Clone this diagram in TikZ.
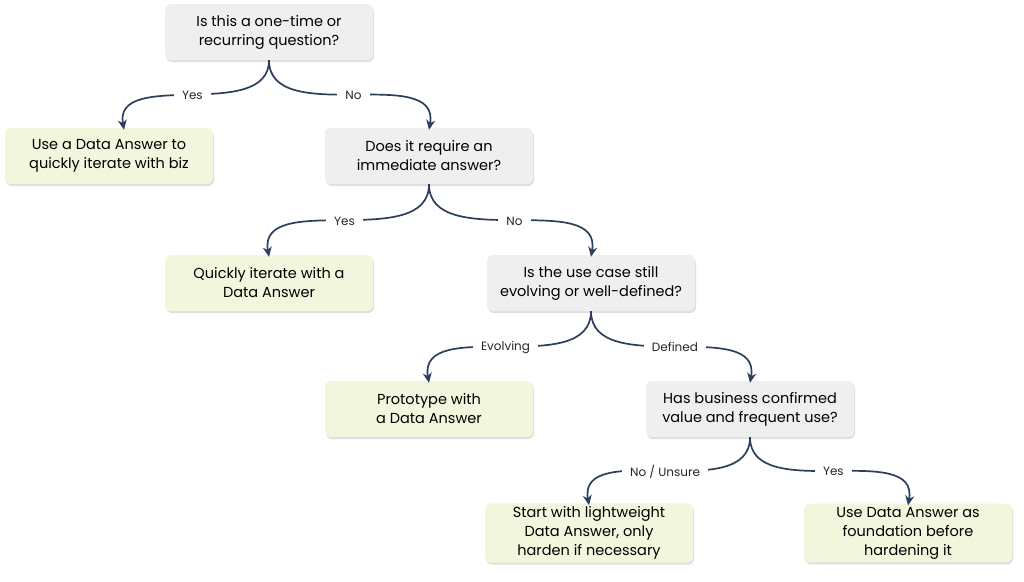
\documentclass[tikz,border=0pt]{standalone}
\usepackage{fontspec}
\setmainfont{Poppins}
\usetikzlibrary{arrows.meta,shadows}
\definecolor{qgray}{HTML}{EFEFEF}
\definecolor{agreen}{HTML}{F1F6DC}
\definecolor{navy}{HTML}{2C3E5C}
\tikzset{
  question/.style={fill=qgray, rounded corners=6pt, minimum width=208pt, minimum height=56pt,
    align=center, font=\fontsize{14.5}{19}\selectfont, drop shadow={opacity=0.25,shadow xshift=1pt,shadow yshift=-2pt}},
  answer/.style={question, fill=agreen},
  link/.style={draw=navy, line width=1.7pt, -{Stealth[length=10pt,width=9pt]}},
  choice/.style={fill=white, inner xsep=8pt, inner ysep=6pt, font=\fontsize{12}{14}\selectfont, text=black!85}
}
\begin{document}
\begin{tikzpicture}[x=1pt,y=-1pt]
  \useasboundingbox (0,0) rectangle (1024,581);
  \node[question] (q1) at (269,32) {Is this a one-time or\\recurring question?};
  \node[answer] (a1) at (109,156) {Use a Data Answer to\\quickly iterate with biz};
  \node[question] (q2) at (429,156) {Does it require an\\immediate answer?};
  \node[answer] (a2) at (269,283) {Quickly iterate with a\\Data Answer};
  \node[question] (q3) at (591,283) {Is the use case still\\evolving or well-defined?};
  \node[answer] (a3) at (429,409) {Prototype with\\a Data Answer};
  \node[question] (q4) at (750,409) {Has business confirmed\\value and frequent use?};
  \node[answer] (a4) at (589,533) {Start with lightweight\\Data Answer, only\\harden if necessary};
  \node[answer] (a5) at (908,533) {Use Data Answer as\\foundation before\\hardening it};
  % branches
  \draw[link] (q1.south) to[out=-90,in=100] node[choice] {Yes} ([xshift=15pt,yshift=-2pt]a1.north);
  \draw[link] (q1.south) to[out=-90,in=80] node[choice] {No} ([yshift=-2pt]q2.north);
  \draw[link] (q2.south) to[out=-90,in=100] node[choice] {Yes} ([yshift=-2pt]a2.north);
  \draw[link] (q2.south) to[out=-90,in=80] node[choice] {No} ([yshift=-2pt]q3.north);
  \draw[link] (q3.south) to[out=-90,in=100] node[choice] {Evolving} ([yshift=-2pt]a3.north);
  \draw[link] (q3.south) to[out=-90,in=80] node[choice] {Defined} ([yshift=-2pt]q4.north);
  \draw[link] (q4.south) to[out=-90,in=100] node[choice] {No / Unsure} ([yshift=-2pt]a4.north);
  \draw[link] (q4.south) to[out=-90,in=80] node[choice] {Yes} ([yshift=-2pt]a5.north);
\end{tikzpicture}
\end{document}
